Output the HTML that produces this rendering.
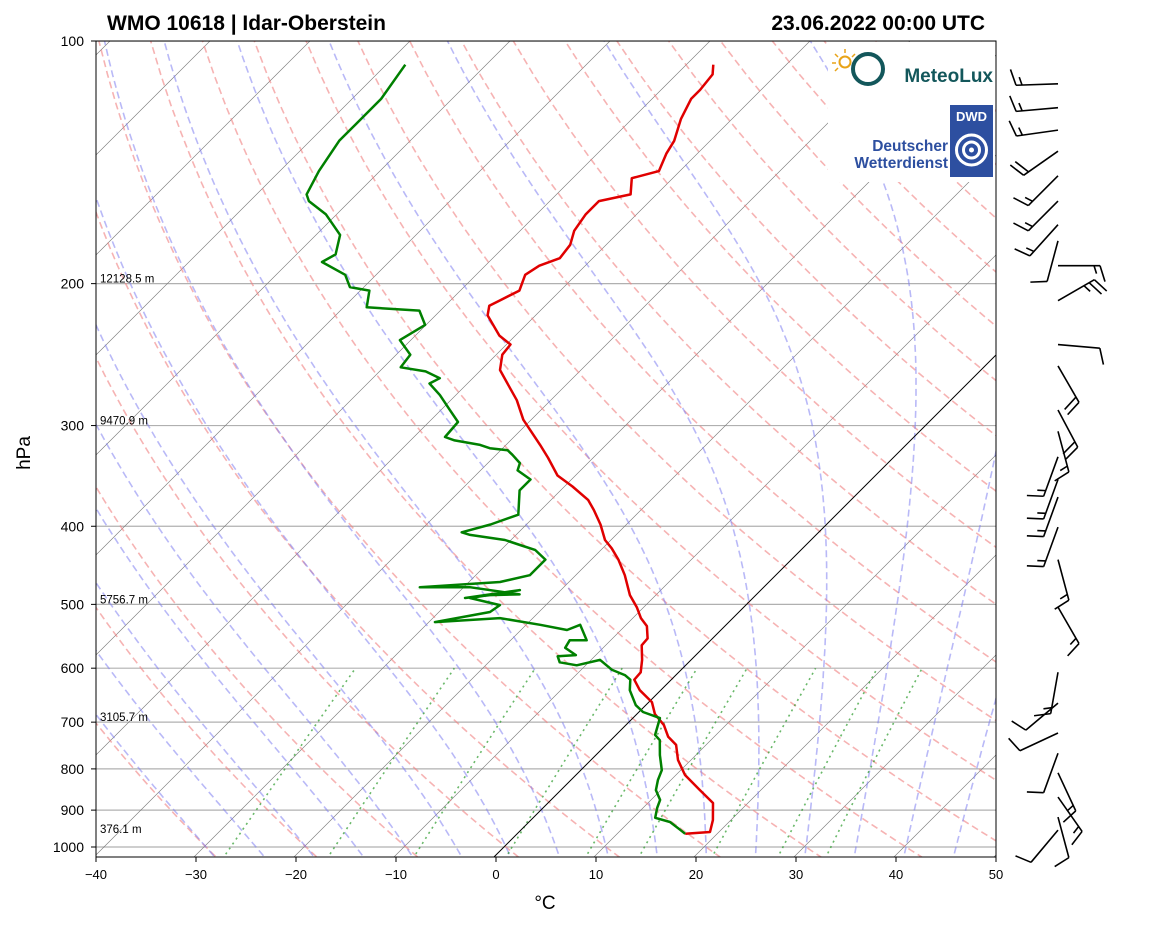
<!DOCTYPE html>
<html><head><meta charset="utf-8"><style>
body{margin:0;background:#fff;}
svg text{font-family:"Liberation Sans","DejaVu Sans",sans-serif;}
</style></head><body>
<svg id="chart" width="1160" height="925" viewBox="0 0 1160 925" xmlns="http://www.w3.org/2000/svg">
<defs><clipPath id="plotclip"><rect x="96" y="41" width="900" height="816"/></clipPath></defs>
<rect width="1160" height="925" fill="#fff"/>
<g id="bg" clip-path="url(#plotclip)"></g>
<g id="prof" clip-path="url(#plotclip)"></g>
<g id="logos">
 <rect x="828" y="42" width="167" height="140" fill="#fff"/>
 <g>
  <circle cx="845" cy="62" r="5.5" fill="none" stroke="#e8a317" stroke-width="2"/>
  <g stroke="#e8a317" stroke-width="1.5"><line x1="845" y1="49" x2="845" y2="53"/><line x1="835" y1="54" x2="838" y2="57"/><line x1="832" y1="63" x2="836" y2="63"/><line x1="855" y1="54" x2="852" y2="57"/><line x1="835" y1="71" x2="838" y2="68"/></g>
  <circle cx="868" cy="69" r="15" fill="none" stroke="#13575b" stroke-width="4"/>
  <text x="993" y="82" font-size="19" font-weight="bold" fill="#13575b" text-anchor="end">MeteoLux</text>
 </g>
 <g>
  <text x="948" y="151" font-size="15.5" font-weight="bold" fill="#2d4fa0" text-anchor="end">Deutscher</text>
  <text x="948" y="168" font-size="15.5" font-weight="bold" fill="#2d4fa0" text-anchor="end">Wetterdienst</text>
  <rect x="950" y="105" width="43" height="72" fill="#2d4fa0"/>
  <text x="971.5" y="121" font-size="13" font-weight="bold" fill="#fff" text-anchor="middle">DWD</text>
  <circle cx="971.5" cy="150" r="15" fill="none" stroke="#fff" stroke-width="3"/>
  <circle cx="971.5" cy="150" r="8" fill="none" stroke="#fff" stroke-width="3"/>
  <circle cx="971.5" cy="150" r="2.5" fill="#fff"/>
 </g>
</g>
<g id="axes"></g>
<g id="barbs"></g>
<text x="107" y="30" font-size="21" font-weight="bold">WMO 10618 | Idar-Oberstein</text>
<text x="985" y="30" font-size="21" font-weight="bold" text-anchor="end">23.06.2022 00:00 UTC</text>
<text x="545" y="909" font-size="19" text-anchor="middle">°C</text>
<text x="30" y="453" font-size="19" text-anchor="middle" transform="rotate(-90 30 453)">hPa</text>
</svg>
<script>
const tempP=[963,958,926,882,850,814,780,747,730,706,684,661,639,620,607,586,562,551,532,520,504,487,460,440,426,416,398,382,371,357,346,329,317,295,279,267,256,245,238,232,219,213,210,204,195,190,186,179,172,164,158,155,148,145,138,133,125,118,115,110,107];
const tempT=[16.6,18.9,18.0,16.3,13.7,10.7,8.5,6.8,5.2,3.6,1.6,0.1,-2.3,-3.9,-4.0,-5.1,-6.6,-6.7,-8.0,-9.4,-10.9,-12.8,-15.3,-17.5,-19.3,-20.8,-22.8,-24.9,-26.5,-29.4,-32,-34.7,-36.8,-41,-43.6,-46,-48.3,-49.6,-49.8,-51.8,-55,-55.8,-55.3,-54.3,-55.3,-54.8,-53.5,-53.8,-54.8,-55.3,-55.3,-52.8,-54.3,-52.3,-53.3,-53.8,-55.3,-56.3,-56.3,-56.6,-57.5];
const dewP=[963,952,931,920,894,874,850,826,803,769,737,726,706,692,680,667,639,620,612,603,586,595,590,580,578,566,554,554,530,538,530,520,526,511,501,491,480,491,487,486,476,476,469,460,440,428,422,416,410,407,398,387,361,350,341,334,326,322,320,317,313,310,297,287,275,266,262,257,254,245,235,225,216,214,204,202,195,188,184,174,164,158,155,145,133,127,118,107];
const dewT=[16.6,15.7,13.9,12.0,11.2,10.7,9.3,8.5,7.9,6.2,4.7,3.7,3.0,2.5,0.2,-1.2,-3.3,-4.3,-5.3,-7.1,-9.3,-11.1,-13.1,-13.9,-12.2,-14,-14.3,-12.6,-14.8,-15.6,-18.8,-23.5,-29.6,-25.1,-24.8,-28.5,-24.3,-29,-26.8,-23.9,-29.6,-34.6,-27.1,-24.8,-24.8,-26.8,-28.8,-30.8,-34.8,-35.9,-33.8,-32,-34.3,-34.3,-36.5,-37,-38.6,-39.5,-41.5,-42.8,-45.8,-47.1,-47.3,-49.3,-51.8,-54,-53.5,-55.6,-58.5,-58.8,-61.3,-60.3,-62.3,-67.9,-69.3,-71.6,-73.3,-76.9,-76.3,-77.8,-81.3,-84.3,-85.2,-86.3,-87.3,-87.3,-87.3,-88.3];
const barbP=[113,121,129,137,147,158,169,177,190,210,238,253,287,305,328,350,368,401,440,504,607,663,722,765,809,867,918,953];
const barbDir=[268,265,262,235,225,225,222,195,90,60,95,150,152,165,200,200,200,200,165,150,190,230,245,200,155,145,165,220];
const barbSpd=[15,15,15,20,15,15,15,10,15,25,10,20,20,15,15,15,15,15,15,15,15,10,10,10,15,15,10,10];
const pressureTicks=[100,200,300,400,500,600,700,800,900,1000];
const tempTicks=[-40,-30,-20,-10,0,10,20,30,40,50];
const heightP=[200,300,500,700,963];
const heightLabels=["12128.5 m","9470.9 m","5756.7 m","3105.7 m","376.1 m"];

const NS="http://www.w3.org/2000/svg";
function yOf(p){return 41+806*(Math.log10(p)-2);}
function xOf(T,p){return 96+(T+40)*10+(857-yOf(p));}
function mk(tag,attrs,parent){const e=document.createElementNS(NS,tag);for(const k in attrs)e.setAttribute(k,attrs[k]);parent.appendChild(e);return e;}
const bg=document.getElementById('bg'),prof=document.getElementById('prof'),axes=document.getElementById('axes'),barbs=document.getElementById('barbs');
function polyFrom(ps,ts){return ps.map((p,i)=>xOf(ts[i],p).toFixed(1)+','+yOf(p).toFixed(1)).join(' ');}

for(const p of pressureTicks){const l=mk('line',{x1:96,x2:996,y1:yOf(p),y2:yOf(p),stroke:'#b0b0b0','stroke-width':1.2},bg);

}
for(let T=-160;T<=50;T+=10){const l=mk('line',{x1:xOf(T,1035),y1:857,x2:xOf(T,1035)+816,y2:41,stroke:'#777','stroke-width':0.6},bg);

}
for(let T0=-30;T0<=200;T0+=10){const ps=[],ts=[];for(let p=1050;p>=100;p-=10){ps.push(p);ts.push((T0+273.15)*Math.pow(p/1000,0.2857)-273.15);}
const l=mk('polyline',{points:polyFrom(ps,ts),fill:'none',stroke:'#f08080','stroke-opacity':0.6,'stroke-width':1.6,'stroke-dasharray':'7,4'},bg);

}
function rs(T,p){const es=6.112*Math.exp(17.67*(T-273.15)/(T-29.65));return 0.622*es/(p-es);}
function dTdp(T,p){const r=rs(T,p);return (287*T+2.5e6*r)/(p*(1004+2.5e6*2.5e6*r*0.622/(287*T*T)));}
for(let T0=-30;T0<=45;T0+=5){let T=T0+273.15;const ps=[],ts=[];
 let Tu=T;for(let p=1000;p<1050;p+=5){Tu+=dTdp(Tu,p)*5;}ps.push(1050);ts.push(Tu-273.15);
 for(let p=1000;p>=100;p-=5){ps.push(p);ts.push(T-273.15);T-=dTdp(T,p)*5;}
 const l=mk('polyline',{points:polyFrom(ps,ts),fill:'none',stroke:'#8080f0','stroke-opacity':0.55,'stroke-width':1.6,'stroke-dasharray':'7,4'},bg);

}
for(const w of [0.0004,0.001,0.002,0.004,0.007,0.01,0.016,0.024,0.032]){const ps=[],ts=[];for(let p=1050;p>=600;p-=10){const e=p*w/(0.622+w);const a=Math.log(e/6.112);ps.push(p);ts.push(243.5*a/(17.67-a));}
 const l=mk('polyline',{points:polyFrom(ps,ts),fill:'none',stroke:'#2a9a2a','stroke-opacity':0.7,'stroke-width':1.6,'stroke-dasharray':'2,4'},bg);

}
{const l=mk('line',{x1:xOf(0,1035),y1:857,x2:xOf(0,1035)+816,y2:41,stroke:'#000','stroke-width':1},bg);

}
{const t=mk('polyline',{points:polyFrom(tempP,tempT),fill:'none',stroke:'#e00000','stroke-width':2.5,'stroke-linejoin':'round'},prof);


const d=mk('polyline',{points:polyFrom(dewP,dewT),fill:'none',stroke:'#008000','stroke-width':2.5,'stroke-linejoin':'round'},prof);

}
{const r=mk('rect',{x:96,y:41,width:900,height:816,fill:'none',stroke:'#000','stroke-width':1},axes);

}
for(const p of pressureTicks){const y=yOf(p);mk('line',{x1:91,x2:96,y1:y,y2:y,stroke:'#000'},axes);
const t=mk('text',{x:84,y:y+5,'font-size':14,'text-anchor':'end'},axes);t.textContent=p;

}
tempTicks.forEach(T=>{const x=96+(T+40)*10;mk('line',{x1:x,x2:x,y1:857,y2:862,stroke:'#000'},axes);
const t=mk('text',{x:x,y:879,'font-size':13,'text-anchor':'middle'},axes);t.textContent=(T<0?'\u2212'+(-T):T);

});
heightP.forEach((p,i)=>{const t=mk('text',{x:100,y:yOf(p)-1,'font-size':11.5},axes);t.textContent=heightLabels[i];

});
barbP.forEach((p,i)=>{const bx=1058,by=yOf(p),d=barbDir[i]*Math.PI/180,L=42;
 const ux=Math.sin(d),uy=-Math.cos(d);const px=-uy,py=ux;
 const g=mk('g',{stroke:'#000','stroke-width':1.6,fill:'none'},barbs);
 
 
 mk('line',{x1:bx,y1:by,x2:bx+L*ux,y2:by+L*uy},g);
 let s=barbSpd[i],pos=L;
 while(s>=10){const sx=bx+pos*ux,sy=by+pos*uy;mk('line',{x1:sx,y1:sy,x2:sx+16*px+5*ux,y2:sy+16*py+5*uy},g);pos-=6;s-=10;}
 if(s>=5){if(pos===L)pos-=6;const sx=bx+pos*ux,sy=by+pos*uy;mk('line',{x1:sx,y1:sy,x2:sx+8*px+2.5*ux,y2:sy+8*py+2.5*uy},g);}
});
</script>
</body></html>
